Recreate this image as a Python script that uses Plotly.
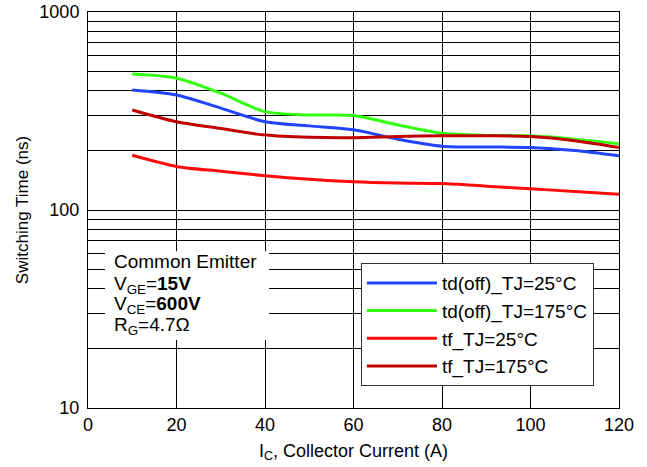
import plotly.graph_objects as go

current = [10, 20, 30, 40, 50, 60, 70, 80, 90, 100, 110, 120]
td_off_25 = [404, 381, 327, 279, 266, 254, 228, 210, 208, 207, 200, 188]
td_off_175 = [486, 463, 389, 314, 302, 300, 269, 244, 238, 237, 228, 216]
tf_25 = [189, 166, 157, 149, 143, 139, 137, 136, 132, 128, 124, 120]
tf_175 = [320, 279, 258, 239, 233, 232, 235, 237, 237, 235, 224, 207]

series = [
    ("td(off)_TJ=25°C", td_off_25, "#2244FF"),
    ("td(off)_TJ=175°C", td_off_175, "#33FF11"),
    ("tf_TJ=25°C", tf_25, "#FF0A0A"),
    ("tf_TJ=175°C", tf_175, "#C00000"),
]

x_ticks = [0, 20, 40, 60, 80, 100, 120]
y_ticks = [10, 100, 1000]
y_minor = [m * d for d in (10, 100) for m in range(2, 10)]

note_lines = ["Common Emitter", "V<sub>GE</sub>=<b>15V</b>",
              "V<sub>CE</sub>=<b>600V</b>", "R<sub>G</sub>=4.7Ω"]

fig = go.Figure()
for i, (name, vals, color) in enumerate(series):
    fig.add_trace(go.Scatter(x=current, y=vals, name=name, mode="lines", legendgroup=f"g{i}",
                             line=dict(color=color, width=3, shape="spline", smoothing=0.8)))

font = "Liberation Sans, Arial, sans-serif"
fig.update_layout(
    width=647, height=467,
    margin=dict(l=88, r=28, t=12, b=59),
    paper_bgcolor="white", plot_bgcolor="white",
    font=dict(family=font, size=18, color="black"),
    xaxis=dict(range=[0, 120], tickvals=x_ticks, showgrid=True, gridcolor="black", gridwidth=1,
               showline=True, linecolor="black", linewidth=1, mirror=True, ticks="",
               zeroline=False, tickfont=dict(size=18), automargin=False,
               title=dict(text="I<sub>C</sub>, Collector Current (A)", font=dict(size=18), standoff=10)),
    yaxis=dict(type="log", range=[1, 3], tickvals=y_ticks, ticktext=["10", "100", "1000"],
               showgrid=True, gridcolor="black", gridwidth=1, automargin=False,
               minor=dict(tickmode="array", tickvals=y_minor, showgrid=True, gridcolor="black", gridwidth=1, ticks=""),
               showline=True, linecolor="black", linewidth=1, mirror=True, ticks="",
               tickfont=dict(size=18), ticklabelstandoff=4,
               title=dict(text="Switching Time (ns)", font=dict(size=17), standoff=6)),
    legend=dict(x=0.514, y=0.366, xanchor="left", yanchor="top", bgcolor="white",
                bordercolor="#333333", borderwidth=1, font=dict(size=19), itemwidth=70,
                tracegroupgap=0),
    showlegend=True,
)

fig.add_shape(type="rect", xref="paper", yref="paper", x0=0.032, x1=0.341, y0=0.172, y1=0.396,
              fillcolor="white", line=dict(width=0), layer="above")

centers = [0.3687, 0.311, 0.260, 0.208]
for txt, yc in zip(note_lines, centers):
    fig.add_annotation(x=0.045, y=yc, xref="paper", yref="paper", xanchor="left", yanchor="middle",
                       text=txt, showarrow=False, align="left", font=dict(size=19, family=font))

fig.write_html("out.html", config={"displayModeBar": False},
               post_script="document.body.style.margin='0';")
